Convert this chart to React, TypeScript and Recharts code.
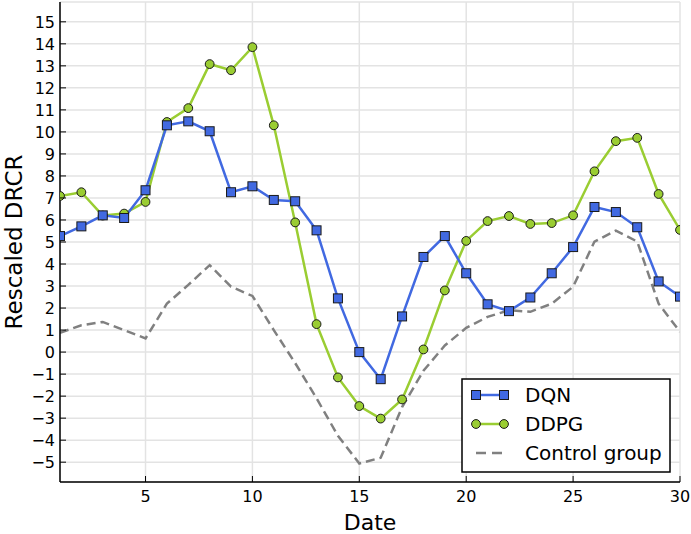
import { LineChart, Line, XAxis, YAxis, CartesianGrid } from 'recharts';

const dates = [1, 2, 3, 4, 5, 6, 7, 8, 9, 10, 11, 12, 13, 14, 15, 16, 17, 18, 19, 20, 21, 22, 23, 24, 25, 26, 27, 28, 29, 30];
const dqn = [5.27, 5.71, 6.21, 6.09, 7.35, 10.3, 10.48, 10.03, 7.26, 7.53, 6.91, 6.85, 5.53, 2.44, 0, -1.23, 1.62, 4.32, 5.27, 3.58, 2.17, 1.86, 2.48, 3.58, 4.77, 6.59, 6.36, 5.67, 3.21, 2.52];
const ddpg = [7.09, 7.26, 6.2, 6.29, 6.82, 10.45, 11.08, 13.08, 12.8, 13.85, 10.3, 5.89, 1.27, -1.15, -2.45, -3.02, -2.15, 0.12, 2.8, 5.05, 5.95, 6.18, 5.82, 5.86, 6.21, 8.21, 9.58, 9.73, 7.18, 5.55];
const control = [0.88, 1.22, 1.37, 1.0, 0.62, 2.2, 3.05, 3.95, 2.97, 2.55, 1.0, -0.5, -2.1, -3.8, -5.06, -4.8, -2.5, -0.85, 0.3, 1.1, 1.6, 1.9, 1.83, 2.2, 2.97, 5.02, 5.52, 5.02, 2.2, 0.92];

const xTicks = [5, 10, 15, 20, 25, 30];
const yTicks = [-5, -4, -3, -2, -1, 0, 1, 2, 3, 4, 5, 6, 7, 8, 9, 10, 11, 12, 13, 14, 15];

const data = dates.map((d, i) => ({ date: d, dqn: dqn[i], ddpg: ddpg[i], control: control[i] }));

const FONT = 'DejaVu Sans';
const BLUE = '#4169e1';
const GREEN = '#9acd32';
const GRAY = '#808080';
const EDGE = '#1a1a1a';

const fmt = (v: number) => (v < 0 ? `\u2212${Math.abs(v)}` : String(v));

function BottomTick({ x, y, payload }: any) {
  return (
    <g>
      <line x1={x} y1={y} x2={x} y2={y - 6} stroke="#000" strokeWidth={1} />
      <text x={x} y={y + 20} textAnchor="middle" fontSize={16} fontFamily={FONT} fill="#000">
        {fmt(payload.value)}
      </text>
    </g>
  );
}

function TopTick({ x, y }: any) {
  return <line x1={x} y1={y} x2={x} y2={y + 6} stroke="#000" strokeWidth={1} />;
}

function LeftTick({ x, y, payload }: any) {
  return (
    <g>
      <line x1={x} y1={y} x2={x + 6} y2={y} stroke="#000" strokeWidth={1} />
      <text x={x - 5} y={y + 5.8} textAnchor="end" fontSize={16} fontFamily={FONT} fill="#000">
        {fmt(payload.value)}
      </text>
    </g>
  );
}

function RightTick({ x, y }: any) {
  return <line x1={x} y1={y} x2={x - 6} y2={y} stroke="#000" strokeWidth={1} />;
}

function SquareDot({ cx, cy }: any) {
  if (cx == null || cy == null) return null;
  return <rect x={cx - 4.5} y={cy - 4.5} width={9} height={9} fill={BLUE} stroke={EDGE} strokeWidth={1} />;
}

function CircleDot({ cx, cy }: any) {
  if (cx == null || cy == null) return null;
  return <circle cx={cx} cy={cy} r={4.4} fill={GREEN} stroke={EDGE} strokeWidth={1} />;
}

function YTitle({ viewBox }: any) {
  const x = viewBox.x + 22;
  const y = viewBox.y + viewBox.height / 2;
  return (
    <text x={x} y={y} transform={`rotate(-90, ${x}, ${y})`} textAnchor="middle" fontSize={23} fontFamily={FONT} fill="#000">
      Rescaled DRCR
    </text>
  );
}

function XTitle({ viewBox }: any) {
  return (
    <text x={viewBox.x + viewBox.width / 2} y={viewBox.y + 48} textAnchor="middle" fontSize={22} fontFamily={FONT} fill="#000">
      Date
    </text>
  );
}

function LegendBox() {
  const rows = [
    { label: 'DQN', kind: 'square' },
    { label: 'DDPG', kind: 'circle' },
    { label: 'Control group', kind: 'dash' },
  ];
  return (
    <svg
      width={210}
      height={95}
      style={{ position: 'absolute', left: 461, top: 378 }}
    >
      <rect x={1} y={1} width={208} height={93} fill="#fff" stroke="#000" strokeWidth={1.5} />
      {rows.map((r, i) => {
        const cy = 17 + i * 29;
        return (
          <g key={r.label}>
            {r.kind === 'square' && (
              <g>
                <line x1={15} y1={cy} x2={43} y2={cy} stroke={BLUE} strokeWidth={2.5} />
                <SquareDot cx={15} cy={cy} />
                <SquareDot cx={43} cy={cy} />
              </g>
            )}
            {r.kind === 'circle' && (
              <g>
                <line x1={15} y1={cy} x2={43} y2={cy} stroke={GREEN} strokeWidth={2.5} />
                <CircleDot cx={15} cy={cy} />
                <CircleDot cx={43} cy={cy} />
              </g>
            )}
            {r.kind === 'dash' && (
              <line x1={15} y1={cy} x2={43} y2={cy} stroke={GRAY} strokeWidth={2.5} strokeDasharray="10 6" />
            )}
            <text x={64} y={cy + 7} fontSize={20} fontFamily={FONT} fill="#000">
              {r.label}
            </text>
          </g>
        );
      })}
    </svg>
  );
}

export default function App() {
  return (
    <div style={{ position: 'absolute', left: 0, top: 0, width: 691, height: 534, background: '#fff', fontFamily: FONT }}>
      <LineChart width={691} height={534} data={data} margin={{ top: 2, right: 11, left: 0, bottom: 0 }}>
        <CartesianGrid xAxisId="b" yAxisId="l" stroke="#e3e3e3" strokeWidth={1.5} />
        <XAxis
          xAxisId="b"
          dataKey="date"
          type="number"
          domain={[1, 30]}
          ticks={xTicks}
          interval={0}
          allowDataOverflow
          height={52}
          tickSize={0}
          tickMargin={0}
          tickLine={false}
          tick={<BottomTick />}
          axisLine={{ stroke: '#000', strokeWidth: 1.5 }}
          label={<XTitle />}
        />
        <XAxis
          xAxisId="t"
          orientation="top"
          type="number"
          domain={[1, 30]}
          ticks={xTicks}
          interval={0}
          allowDataOverflow
          height={0}
          tickSize={0}
          tickMargin={0}
          tickLine={false}
          tick={<TopTick />}
          axisLine={{ stroke: '#000', strokeWidth: 1.5 }}
        />
        <YAxis
          yAxisId="l"
          type="number"
          domain={[-5.9, 15.9]}
          ticks={yTicks}
          interval={0}
          allowDataOverflow
          width={60}
          tickSize={0}
          tickMargin={0}
          tickLine={false}
          tick={<LeftTick />}
          axisLine={{ stroke: '#000', strokeWidth: 1.5 }}
          label={<YTitle />}
        />
        <YAxis
          yAxisId="r"
          orientation="right"
          type="number"
          domain={[-5.9, 15.9]}
          ticks={yTicks}
          interval={0}
          allowDataOverflow
          width={0}
          tickSize={0}
          tickMargin={0}
          tickLine={false}
          tick={<RightTick />}
          axisLine={{ stroke: '#000', strokeWidth: 1.5 }}
        />
        <Line
          xAxisId="b"
          yAxisId="l"
          type="linear"
          dataKey="control"
          stroke={GRAY}
          strokeWidth={2.5}
          strokeDasharray="9 5"
          dot={false}
          isAnimationActive={false}
        />
        <Line
          xAxisId="b"
          yAxisId="l"
          type="linear"
          dataKey="ddpg"
          stroke={GREEN}
          strokeWidth={2.5}
          dot={<CircleDot />}
          isAnimationActive={false}
        />
        <Line
          xAxisId="b"
          yAxisId="l"
          type="linear"
          dataKey="dqn"
          stroke={BLUE}
          strokeWidth={2.5}
          dot={<SquareDot />}
          isAnimationActive={false}
        />
      </LineChart>
      <LegendBox />
    </div>
  );
}
